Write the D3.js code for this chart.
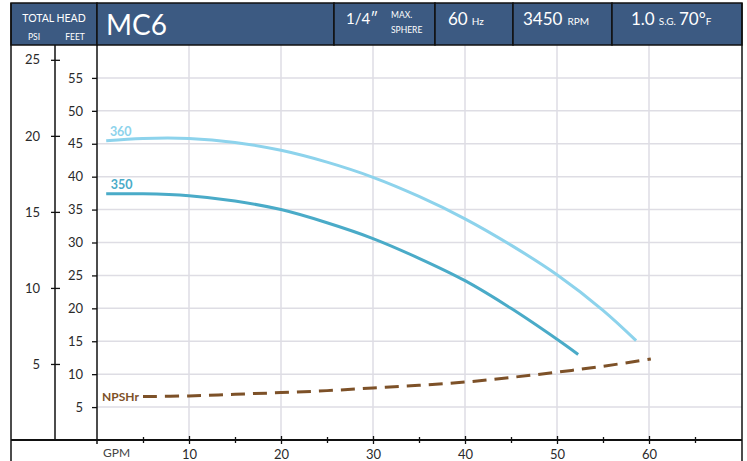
<!DOCTYPE html>
<html>
<head>
<meta charset="utf-8">
<script src="https://cdn.jsdelivr.net/npm/d3@7"></script>
<style>
  body { margin: 0; background: #fff; }
  svg { display: block; font-family: Lato, "Open Sans", sans-serif; }
</style>
</head>
<body>
<div id="chart"></div>
<script>
// pump curve data (GPM vs feet of head)
var gpm360  = [1, 5, 10, 15, 20, 25, 30, 35, 40, 45, 50, 55, 58.6];
var head360 = [45.45, 45.8, 45.8, 45.2, 44.0, 42.2, 39.9, 37.0, 33.6, 29.6, 25.1, 19.7, 15.1];

var gpm350  = [1, 5, 10, 15, 20, 25, 30, 35, 40, 45, 50, 52.3];
var head350 = [37.4, 37.4, 37.1, 36.3, 35.0, 33.0, 30.6, 27.6, 24.2, 20.0, 15.3, 13.0];

var gpmNpsh = [5, 10, 15, 20, 25, 30, 35, 40, 45, 50, 55, 60.2];
var npshr   = [6.6, 6.7, 6.95, 7.2, 7.5, 7.9, 8.3, 8.8, 9.5, 10.3, 11.2, 12.3];

var feetTicks = [5, 10, 15, 20, 25, 30, 35, 40, 45, 50, 55];
var psiTicks  = [5, 10, 15, 20, 25];
var gpmTicks  = [5, 10, 15, 20, 25, 30, 35, 40, 45, 50, 55, 60, 65];
var gpmLabels = [10, 20, 30, 40, 50, 60];

var W = 747, H = 461;
var leftX = 11, psiX = 55, plotL = 97, plotR = 742, headT = 3, headB = 45, axisY = 440;

var svg = d3.select("#chart").append("svg")
    .attr("width", W)
    .attr("height", H);

// set the ranges
var x = d3.scaleLinear().domain([0, 70]).range([plotL, 741]);
var yFt = d3.scaleLinear().domain([0, 60]).range([axisY, headB]);
var yPsi = d3.scaleLinear().domain([0, 60 / 2.31]).range([axisY, headB]);

// grid
svg.append("g").selectAll("line")
    .data(feetTicks)
  .enter().append("line")
    .attr("x1", plotL).attr("x2", plotR)
    .attr("y1", function(d) { return yFt(d); })
    .attr("y2", function(d) { return yFt(d); })
    .attr("stroke", "#dedde4").attr("stroke-width", 1.5);

svg.append("g").selectAll("line")
    .data(gpmLabels)
  .enter().append("line")
    .attr("x1", function(d) { return x(d); })
    .attr("x2", function(d) { return x(d); })
    .attr("y1", headB).attr("y2", axisY)
    .attr("stroke", "#dedde4").attr("stroke-width", 1.5);

// header band
var cells = [[leftX, plotL], [plotL, 334], [334, 435], [435, 513], [513, 612], [612, plotR]];
svg.append("g").selectAll("rect")
    .data(cells)
  .enter().append("rect")
    .attr("x", function(d) { return d[0]; })
    .attr("y", headT)
    .attr("width", function(d) { return d[1] - d[0]; })
    .attr("height", headB - headT)
    .attr("fill", "#3c5a82")
    .attr("stroke", "#111").attr("stroke-width", 1.5);

function htext(txt, x0, y0, size, anchor) {
  return svg.append("text")
      .attr("x", x0).attr("y", y0)
      .attr("fill", "#fff")
      .attr("font-size", size)
      .attr("text-anchor", anchor || "start")
      .text(txt);
}
htext("TOTAL HEAD", 54, 22, 10.5, "middle");
htext("PSI", 34, 40, 8.5, "middle");
htext("FEET", 75, 40, 8.5, "middle");
htext("MC6", 106, 35, 28);
htext("1/4\u2033", 346, 24, 15);
htext("MAX.", 391, 18, 8.5);
htext("SPHERE", 391, 33, 8.5);

var t = htext("", 448, 25, 17);
t.append("tspan").text("60");
t.append("tspan").attr("font-size", 10).attr("dx", 4).text("Hz");

t = htext("", 523, 25, 17);
t.append("tspan").text("3450");
t.append("tspan").attr("font-size", 10).attr("dx", 5).text("RPM");

t = htext("", 631, 25, 17);
t.append("tspan").text("1.0");
t.append("tspan").attr("font-size", 10).attr("dx", 4).text("S.G.");
t.append("tspan").attr("dx", 3).text("70\u00b0");
t.append("tspan").attr("font-size", 10).text("F");

// frame lines
var frame = svg.append("g").attr("stroke", "#111");
frame.append("line").attr("x1", leftX).attr("x2", leftX).attr("y1", headT).attr("y2", H).attr("stroke-width", 1.5);
frame.append("line").attr("x1", plotR).attr("x2", plotR).attr("y1", headT).attr("y2", H).attr("stroke-width", 1.5);
frame.append("line").attr("x1", psiX).attr("x2", psiX).attr("y1", headB).attr("y2", axisY).attr("stroke-width", 1.5);
frame.append("line").attr("x1", plotL).attr("x2", plotL).attr("y1", headB).attr("y2", axisY + 4).attr("stroke-width", 1.5);
frame.append("line").attr("x1", leftX).attr("x2", plotR).attr("y1", axisY).attr("y2", axisY).attr("stroke-width", 2);

// add the feet axis
var gFt = svg.append("g")
    .attr("transform", "translate(" + plotL + ",0)")
    .call(d3.axisLeft(yFt).tickValues(feetTicks).tickSize(5).tickPadding(9));
gFt.select(".domain").remove();

// add the psi axis
var gPsi = svg.append("g")
    .attr("transform", "translate(" + psiX + ",0)")
    .call(d3.axisLeft(yPsi).tickValues(psiTicks).tickSize(4).tickPadding(11));
gPsi.select(".domain").remove();
gPsi.selectAll(".tick line").attr("x1", 5);

// add the gpm axis
var gX = svg.append("g")
    .attr("transform", "translate(0," + axisY + ")")
    .call(d3.axisBottom(x).tickValues(gpmTicks).tickSize(4).tickPadding(6)
      .tickFormat(function(d) { return gpmLabels.indexOf(d) >= 0 ? d : ""; }));
gX.select(".domain").remove();
gX.selectAll(".tick line")
    .attr("y1", function(d) { return d % 10 === 0 ? -4 : -3; })
    .attr("y2", function(d) { return d % 10 === 0 ? 4 : 3; });

svg.selectAll(".tick line").attr("stroke", "#111").attr("stroke-width", 1.3);
svg.selectAll(".tick text")
    .attr("font-family", "Lato, 'Open Sans', sans-serif")
    .attr("font-size", 13)
    .attr("fill", "#2a2a2a");

svg.append("text")
    .attr("x", x(0) + 6).attr("y", 457)
    .attr("font-size", 12).attr("fill", "#444")
    .text("GPM");

// curves
var line = d3.line()
    .x(function(d) { return x(d[0]); })
    .y(function(d) { return yFt(d[1]); })
    .curve(d3.curveCatmullRom);

var series = [
  {name: "360", gpm: gpm360, val: head360, color: "#8dd3ec", dash: null},
  {name: "350", gpm: gpm350, val: head350, color: "#4aabc8", dash: null},
  {name: "NPSHr", gpm: gpmNpsh, val: npshr, color: "#7d5128", dash: "14,8"}
];

series.forEach(function(s) {
  svg.append("path")
      .datum(s.gpm.map(function(g, i) { return [g, s.val[i]]; }))
      .attr("fill", "none")
      .attr("stroke", s.color)
      .attr("stroke-width", 3)
      .attr("stroke-dasharray", s.dash)
      .attr("d", line);
});

// curve labels
svg.append("text").attr("x", x(1.4)).attr("y", yFt(head360[0]) - 5)
    .attr("font-size", 12.5).attr("font-weight", "bold").attr("fill", "#8dd3ec").text("360");
svg.append("text").attr("x", x(1.5)).attr("y", yFt(head350[0]) - 5)
    .attr("font-size", 12.5).attr("font-weight", "bold").attr("fill", "#4aabc8").text("350");
svg.append("text").attr("x", x(gpmNpsh[0]) - 4).attr("y", yFt(npshr[0]) + 4)
    .attr("text-anchor", "end")
    .attr("font-size", 12).attr("font-weight", "bold").attr("fill", "#7d5128").text("NPSHr");
</script>
</body>
</html>
